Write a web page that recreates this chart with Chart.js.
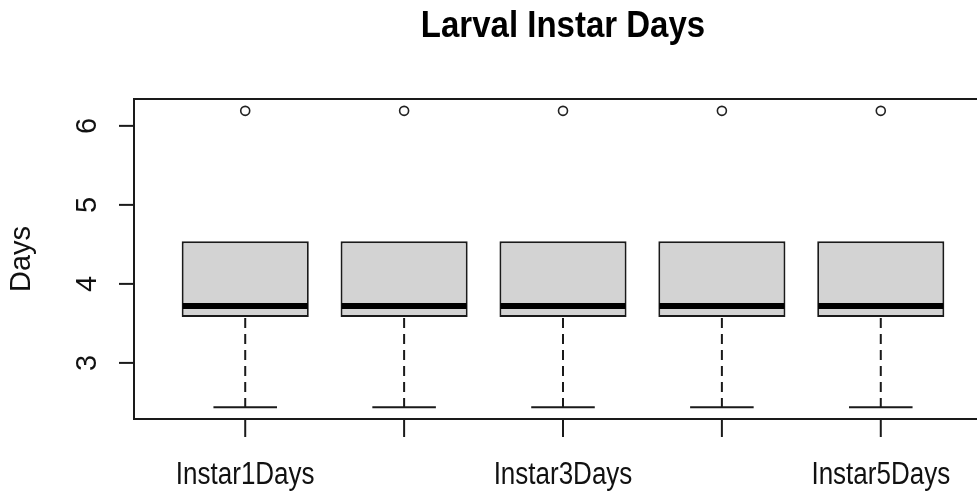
<!DOCTYPE html>
<html><head><meta charset="utf-8">
<script src="https://cdn.jsdelivr.net/npm/chart.js@4.4.0/dist/chart.umd.min.js"></script>
<style>html,body{margin:0;padding:0;background:#fff;overflow:hidden}#wrap{width:1000px;height:497px;position:relative}</style>
</head><body><div id="wrap"><canvas id="c"></canvas></div>
<script>
const categories = ['Instar1Days','Instar2Days','Instar3Days','Instar4Days','Instar5Days'];
const shownLabels = ['Instar1Days','Instar3Days','Instar5Days'];
const whiskerLow = [2.44, 2.44, 2.44, 2.44, 2.44];
const q1 = [3.58, 3.58, 3.58, 3.58, 3.58];
const median = [3.72, 3.72, 3.72, 3.72, 3.72];
const q3 = [4.54, 4.54, 4.54, 4.54, 4.54];
const whiskerHigh = [4.54, 4.54, 4.54, 4.54, 4.54];
const outliers = [6.19, 6.19, 6.19, 6.19, 6.19];
const yTicks = [3, 4, 5, 6];
const chartTitle = 'Larval Instar Days';
const yTitle = 'Days';

const FONT = '"Liberation Sans", Arial, sans-serif';

function drawText(ctx, text, x, y, font, sy, rot) {
  ctx.save();
  ctx.font = font;
  ctx.translate(x, y);
  if (rot) ctx.rotate(rot);
  ctx.scale(1, sy);
  ctx.fillText(text, 0, 0);
  ctx.restore();
}

const boxExtras = {
  id: 'boxExtras',
  afterDatasetsDraw(chart) {
    const ctx = chart.ctx, xs = chart.scales.x, ys = chart.scales.y;
    const meta = chart.getDatasetMeta(0);
    ctx.save();
    categories.forEach((c, i) => {
      const px = xs.getPixelForValue(i + 1);
      const w = meta.data[i].width;
      ctx.strokeStyle = '#1a1a1a';
      ctx.lineWidth = 2;
      ctx.setLineDash([10, 6]);
      ctx.beginPath();
      ctx.moveTo(px, ys.getPixelForValue(q1[i]) + 1);
      ctx.lineTo(px, ys.getPixelForValue(whiskerLow[i]));
      ctx.stroke();
      if (whiskerHigh[i] > q3[i]) {
        ctx.beginPath();
        ctx.moveTo(px, ys.getPixelForValue(q3[i]) - 1);
        ctx.lineTo(px, ys.getPixelForValue(whiskerHigh[i]));
        ctx.stroke();
      }
      ctx.setLineDash([]);
      ctx.beginPath();
      ctx.moveTo(px - w / 4, ys.getPixelForValue(whiskerLow[i]));
      ctx.lineTo(px + w / 4, ys.getPixelForValue(whiskerLow[i]));
      if (whiskerHigh[i] > q3[i]) {
        ctx.moveTo(px - w / 4, ys.getPixelForValue(whiskerHigh[i]));
        ctx.lineTo(px + w / 4, ys.getPixelForValue(whiskerHigh[i]));
      }
      ctx.stroke();
      ctx.strokeStyle = '#000';
      ctx.lineWidth = 6;
      ctx.beginPath();
      ctx.moveTo(px - w / 2 + 1, ys.getPixelForValue(median[i]));
      ctx.lineTo(px + w / 2 - 1, ys.getPixelForValue(median[i]));
      ctx.stroke();
    });
    ctx.restore();
  },
  afterDraw(chart) {
    const ctx = chart.ctx, xs = chart.scales.x, ys = chart.scales.y;
    const a = chart.chartArea;
    ctx.save();
    ctx.strokeStyle = '#1a1a1a';
    ctx.lineWidth = 2;
    ctx.strokeRect(a.left, a.top, a.right - a.left, a.bottom - a.top);
    ctx.fillStyle = '#111';
    ctx.textAlign = 'center';
    ctx.textBaseline = 'middle';
    yTicks.forEach(v => {
      const py = ys.getPixelForValue(v);
      ctx.beginPath();
      ctx.moveTo(a.left, py);
      ctx.lineTo(a.left - 15, py);
      ctx.stroke();
      drawText(ctx, String(v), 88, py, '29px ' + FONT, 1, -Math.PI / 2);
    });
    ctx.textBaseline = 'alphabetic';
    categories.forEach((c, i) => {
      const px = xs.getPixelForValue(i + 1);
      ctx.beginPath();
      ctx.moveTo(px, a.bottom);
      ctx.lineTo(px, a.bottom + 18);
      ctx.stroke();
      if (shownLabels.includes(c)) {
        drawText(ctx, c, px, 484, '26px ' + FONT, 1.2, 0);
      }
    });
    ctx.textBaseline = 'middle';
    drawText(ctx, yTitle, 22, (a.top + a.bottom) / 2, '29px ' + FONT, 1, -Math.PI / 2);
    ctx.fillStyle = '#000';
    ctx.textBaseline = 'alphabetic';
    drawText(ctx, chartTitle, (a.left + a.right) / 2, 37, 'bold 33px ' + FONT, 1.13, 0);
    ctx.restore();
  }
};

new Chart(document.getElementById('c'), {
  type: 'bar',
  data: {
    datasets: [
      {
        type: 'bar',
        data: categories.map((c, i) => ({ x: i + 1, y: [q1[i], q3[i]] })),
        backgroundColor: '#d3d3d3',
        borderColor: '#1a1a1a',
        borderWidth: 2,
        borderSkipped: false,
        barPercentage: 0.8,
        categoryPercentage: 1.0
      },
      {
        type: 'scatter',
        data: categories.map((c, i) => ({ x: i + 1, y: outliers[i] })),
        pointRadius: 4.5,
        pointBackgroundColor: 'rgba(255,255,255,0)',
        pointBorderColor: '#222',
        pointBorderWidth: 1.6
      }
    ]
  },
  options: {
    responsive: true,
    maintainAspectRatio: false,
    animation: false,
    layout: { padding: { left: 134, top: 99, right: 8, bottom: 78 } },
    plugins: { legend: { display: false }, tooltip: { enabled: false }, title: { display: false } },
    scales: {
      x: {
        type: 'linear', min: 0.3, max: 5.7, display: false, offset: false,
        afterBuildTicks: s => { s.ticks = categories.map((c, i) => ({ value: i + 1 })); }
      },
      y: {
        type: 'linear', min: 2.29, max: 6.34, display: false,
        afterBuildTicks: s => { s.ticks = yTicks.map(v => ({ value: v })); }
      }
    }
  },
  plugins: [boxExtras]
});
</script>
</body></html>
